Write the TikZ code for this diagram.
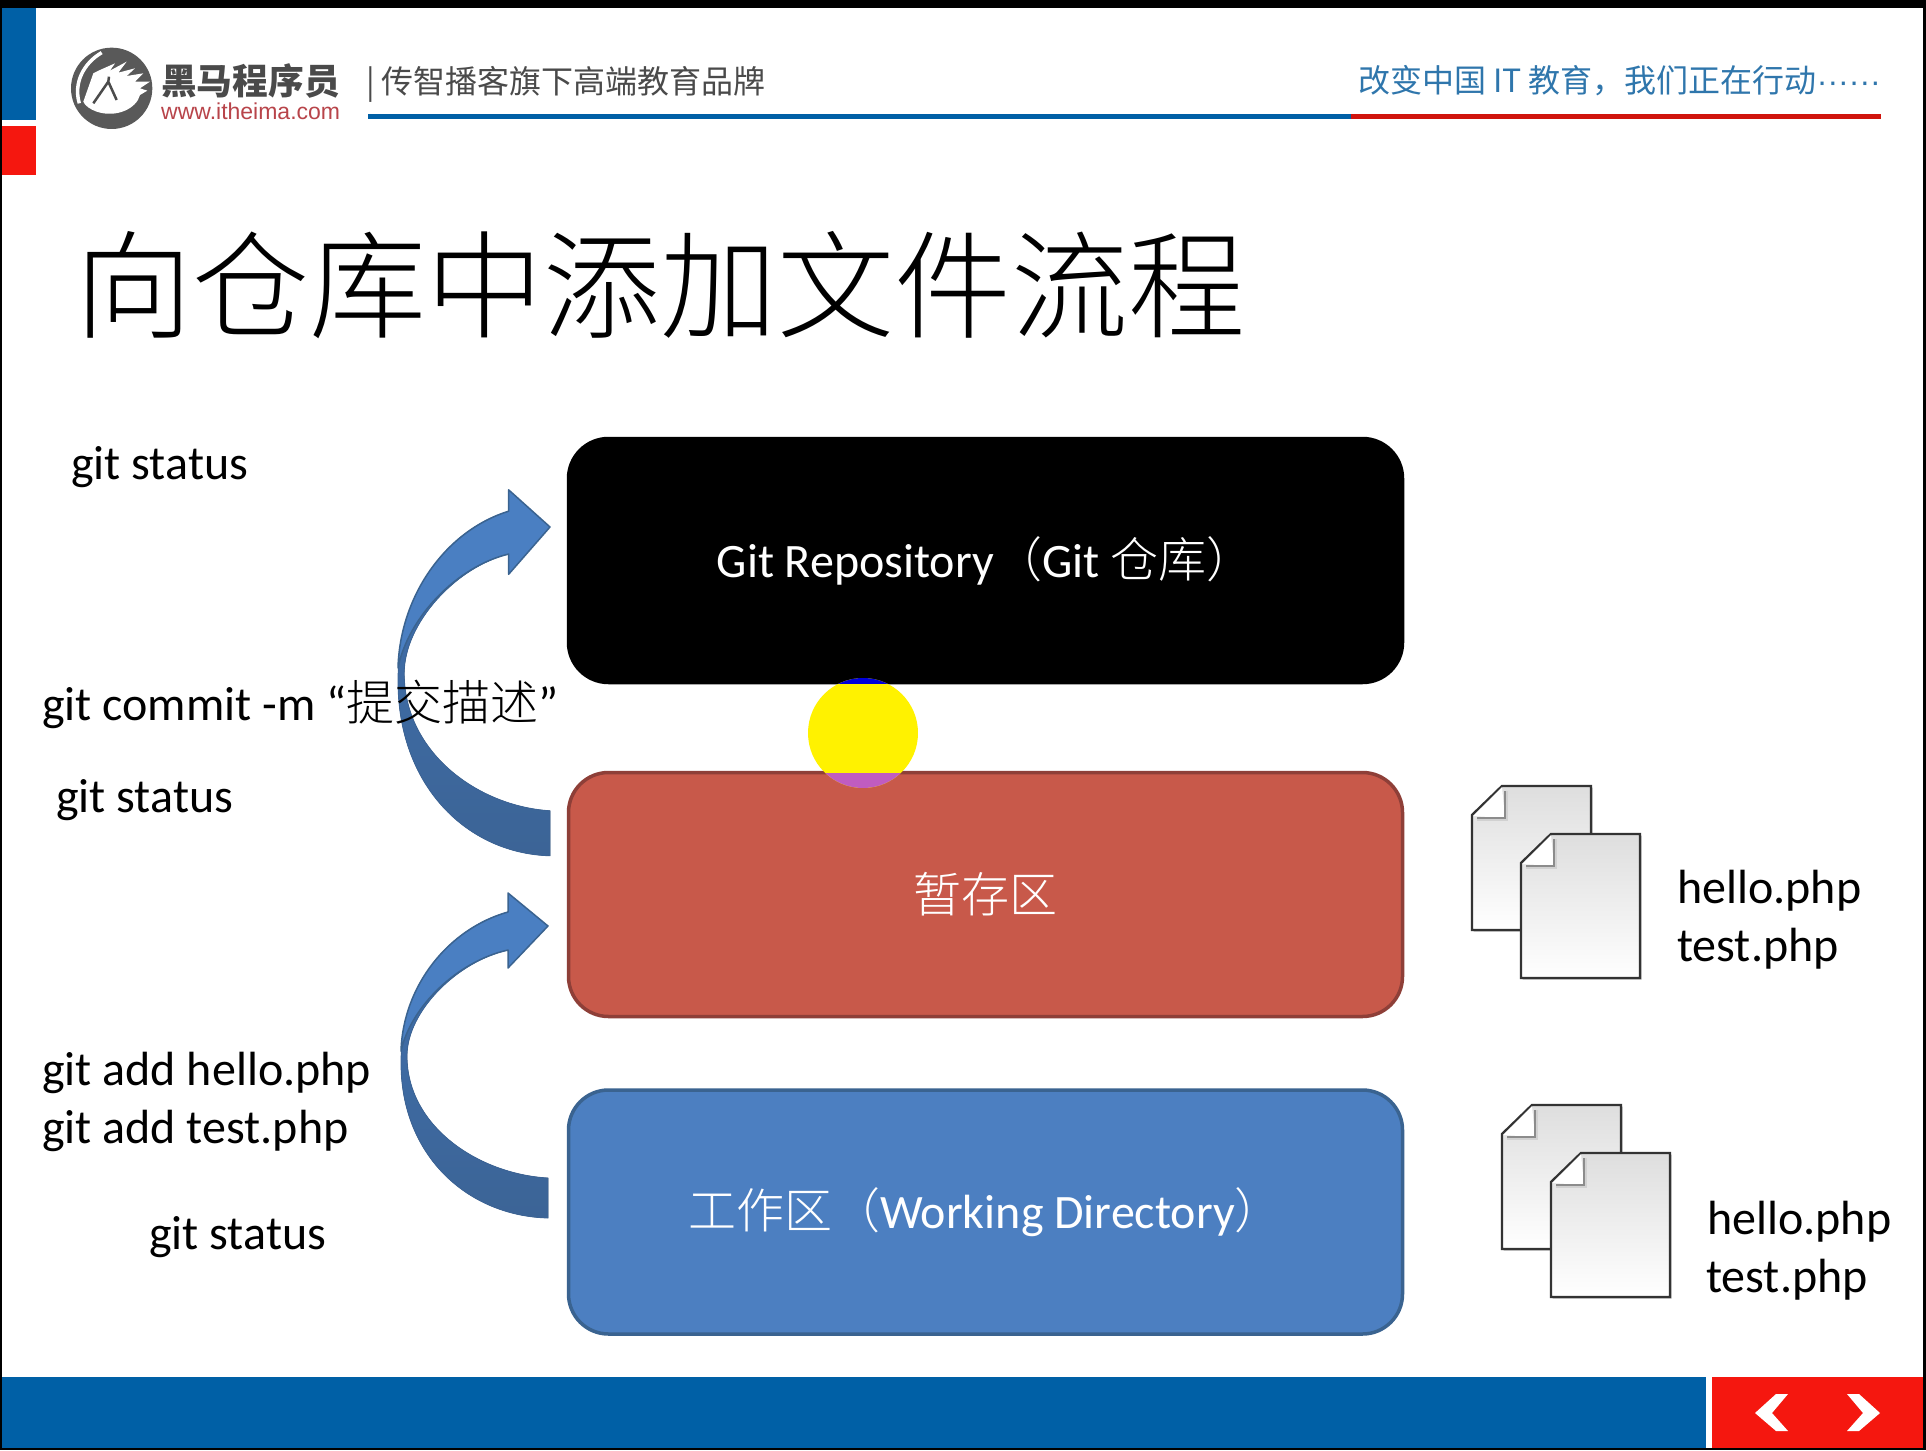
\documentclass[tikz,border=0pt]{standalone}
\usepackage{fontspec}
\setmainfont{Carlito}
\newfontfamily\cjk{Noto Sans CJK SC}
\newfontfamily\cjklight{Noto Sans CJK SC Light}
\newfontfamily\hdr{Liberation Sans}
\usetikzlibrary{shadows}
\definecolor{brandblue}{HTML}{0060A6}
\definecolor{brandred}{HTML}{F5170F}
\definecolor{sloganblue}{HTML}{2F76AC}
\definecolor{hdrgray}{HTML}{4A4A4A}
\definecolor{urlred}{HTML}{B8444A}
\definecolor{boxred}{HTML}{C8594A}
\definecolor{boxredline}{HTML}{8E3F38}
\definecolor{boxblue}{HTML}{4C7FC1}
\definecolor{boxblueline}{HTML}{3A6390}
\definecolor{arrowlight}{HTML}{4A7FC2}
\definecolor{arrowmid}{HTML}{3F70AE}
\definecolor{arrowdark}{HTML}{3C6496}
\definecolor{pointerpurple}{HTML}{C05CC0}
\newcommand{\fs}[1]{\fontsize{#1}{#1}\selectfont}
\newcommand{\cj}[1]{{\cjklight #1}}
\tikzset{
  x=1pt,y=-1pt,
  stage/.style={rounded corners=40pt,minimum width=834pt,minimum height=244pt,line width=3.5pt,inner sep=0pt,text=white,font=\fs{48}},
  cmdlabel/.style={anchor=mid west,inner sep=0pt,font=\fs{48},text=black,yshift=-13pt},
  hdrlabel/.style={anchor=mid west,inner sep=0pt},
  pics/docsheet/.style={code={
    \draw[line width=2.4pt,draw=black!80,top color=black!13,middle color=black!3,bottom color=white,
      drop shadow={shadow xshift=1.5pt,shadow yshift=-1.5pt,opacity=.3,fill=black}]
      (30,0) -- (119,0) -- (119,144) -- (0,144) -- (0,29) -- cycle;
    \fill[white] (30,1) -- (1,30) -- (33,32) -- cycle;
    \draw[line width=3.5pt,black!18] (5,33) -- (34,33) -- (34,5);
    \draw[line width=1.6pt,black!45] (5,32) -- (33,32) -- (33,5);
  }},
  pics/blockarrow/.style={code={
    \fill[top color=arrowmid,bottom color=arrowdark,draw=arrowdark,line width=.8pt]
      (-147,137) .. controls (-147,230) and (-80,290) .. (0,292)
      -- (0,252) .. controls (-70,248) and (-141,200) .. (-141,130)
      .. controls (-141,85) and (-90,35) .. (-40,24)
      -- (-40,-14) .. controls (-100,3) and (-147,60) .. (-147,137) -- cycle;
    \fill[arrowlight,draw=boxblueline,line width=1.5pt,line join=round]
      (-147,125) .. controls (-145,60) and (-100,3) .. (-40,-14)
      -- (-40,-33) -- (0,0) -- (-40,42) -- (-40,24)
      .. controls (-90,35) and (-137,80) .. (-147,125) -- cycle;
  }}
}
\begin{document}
\begin{tikzpicture}
\useasboundingbox (0,0) rectangle (1926,1450);
\fill[white] (0,0) rectangle (1926,1450);
% frame
\fill[black] (0,0) rectangle (1926,8);
\fill[black] (0,0) rectangle (2,1450);
\fill[black] (1923,0) rectangle (1926,1450);
\fill[brandblue] (2,8) rectangle (36,120);
\fill[brandred] (2,126) rectangle (36,175);
\fill[brandblue] (2,1377) rectangle (1706,1448);
\fill[brandred] (1712,1377) rectangle (1923,1448);
\fill[black] (0,1448) rectangle (1926,1450);
\fill[white] (1755,1413) -- (1776,1394) -- (1788,1394) -- (1772,1413) -- (1788,1431) -- (1776,1431) -- cycle;
\fill[white] (1880,1413) -- (1859,1394) -- (1847,1394) -- (1863,1413) -- (1847,1431) -- (1859,1431) -- cycle;
% logo
\begin{scope}[shift={(60,40)},scale=.3333]
\fill[black!65] (155,145) circle (122);
\fill[white] (70,185) -- (100,100) -- (120,90) -- (165,70) -- (150,92) -- (200,65) -- (175,98) -- (225,85) -- (200,108) -- (250,100) -- (225,125) -- (270,125) -- (240,145) -- (262,152) -- (240,165)
  .. controls (230,205) and (170,235) .. (110,215) .. controls (90,208) and (75,197) .. (70,185) -- cycle;
\draw[white,line width=3.5pt] (58,190) .. controls (40,130) and (70,70) .. (125,38);
\draw[black!70,line width=2.5pt] (100,190) -- (145,125) -- (170,180) (145,125) -- (147,110);
\end{scope}
% header
\node[hdrlabel,text=hdrgray] (brand) at (161,92) {\cjk\fs{35.7}\bfseries 黑马程序员};
\node[hdrlabel,text=urlred] (url) at (161,117) {\hdr\fs{23}www.itheima.com};
\node[hdrlabel,text=hdrgray] (tagline) at (366,91) {\cjk\fs{32}|\hspace{7pt}传智播客旗下高端教育品牌};
\node[hdrlabel,text=sloganblue,anchor=mid east] (slogan) at (1881,90) {\cjk\fs{32}改变中国 IT 教育，我们正在行动{\hdr ······}};
\fill[brandblue] (368,114) rectangle (1351,119);
\fill[brandred!85!black] (1351,114) rectangle (1881,119);
% title
\node[hdrlabel,text=black] (title) at (75.5,327) {\cjklight\fs{117}向仓库中添加文件流程};
% arrows
\pic[xscale=1.034,yscale=1.126] at (550,527) {blockarrow};
\pic at (548,926) {blockarrow};
% stages
\node[stage,fill=black,draw=black] (repo) at (985.5,560.5) {Git Repository\cj{（}Git \cj{仓库）}};
\node[stage,fill=boxred,draw=boxredline] (index) at (985.5,894.5) {\cj{暂存区}};
\node[stage,fill=boxblue,draw=boxblueline] (work) at (985.5,1212) {\cj{工作区（}Working Directory\cj{）}};
% pointer
\begin{scope}
\clip (863,733) circle (55);
\fill[yellow] (808,678) rectangle (918,788);
\fill[blue!85!black] (808,670) rectangle (918,684);
\fill[pointerpurple] (808,773) rectangle (918,795);
\end{scope}
% documents
\pic at (1472,786) {docsheet};
\pic at (1521,834) {docsheet};
\pic at (1502,1105) {docsheet};
\pic at (1551,1153) {docsheet};
% labels
\node[cmdlabel] (l1) at (71,464) {git status};
\node[cmdlabel] (l2) at (42,705) {git commit -m “\cj{提交描述}”};
\node[cmdlabel] (l3) at (56,797) {git status};
\node[cmdlabel] (l4) at (42,1070) {git add hello.php};
\node[cmdlabel] (l5) at (42,1128) {git add test.php};
\node[cmdlabel] (l6) at (149,1234) {git status};
\node[cmdlabel] (f1) at (1677,888) {hello.php};
\node[cmdlabel] (f2) at (1677,946) {test.php};
\node[cmdlabel] (f3) at (1707,1219) {hello.php};
\node[cmdlabel] (f4) at (1706,1277) {test.php};
\end{tikzpicture}
\end{document}
